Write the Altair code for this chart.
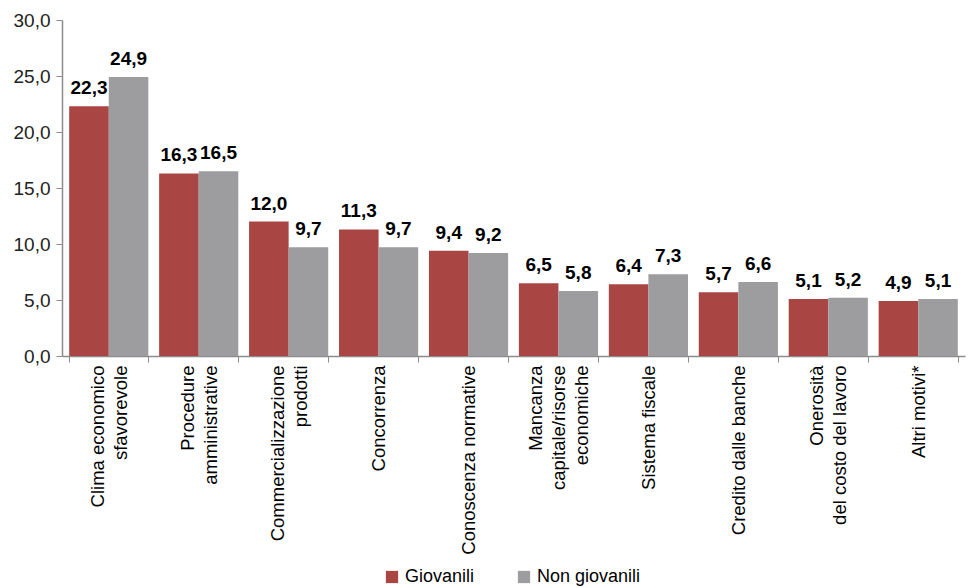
import altair as alt
import pandas as pd

categories = [
    "Clima economico|sfavorevole",
    "Procedure|amministrative",
    "Commercializzazione|prodotti",
    "Concorrenza",
    "Conoscenza normative",
    "Mancanza|capitale/risorse|economiche",
    "Sistema fiscale",
    "Credito dalle banche",
    "Onerosità|del costo del lavoro",
    "Altri motivi*",
]
series = ["Giovanili", "Non giovanili"]
giovanili = [22.3, 16.3, 12.0, 11.3, 9.4, 6.5, 6.4, 5.7, 5.1, 4.9]
non_giovanili = [24.9, 16.5, 9.7, 9.7, 9.2, 5.8, 7.3, 6.6, 5.2, 5.1]
colors = ["#A94643", "#9D9D9F"]
y_ticks = [0, 5, 10, 15, 20, 25, 30]

rows = []
for c, g, n in zip(categories, giovanili, non_giovanili):
    rows.append({"cat": c, "serie": series[0], "value": g})
    rows.append({"cat": c, "serie": series[1], "value": n})
df = pd.DataFrame(rows)

FONT = "Liberation Sans, Arial, sans-serif"
LINE_H = 23

label_offset = {
    "condition": [
        {"test": "length(split(datum.label, '|')) == 3", "value": -LINE_H},
        {"test": "length(split(datum.label, '|')) == 2", "value": -LINE_H / 2},
    ],
    "value": 0,
}

x_enc = alt.X(
    "cat:N",
    sort=categories,
    scale=alt.Scale(paddingInner=0.12, paddingOuter=0.08),
    axis=alt.Axis(
        title=None,
        labelAngle=-90,
        labelAlign="right",
        labelBaseline="middle",
        labelExpr="split(datum.label, '|')",
        labelLineHeight=LINE_H,
        labelFontSize=18.5,
        labelFont=FONT,
        labelColor="#000000",
        labelPadding=3,
        labelOffset=label_offset,
        tickBand="extent",
        tickSize=6,
        tickColor="#8c8c8c",
        domainColor="#8c8c8c",
        domainWidth=1.5,
        labelLimit=300,
    ),
)
xo_enc = alt.XOffset("serie:N", sort=series, scale=alt.Scale(paddingInner=0, paddingOuter=0))

bars = alt.Chart(df).mark_bar().encode(
    x=x_enc,
    xOffset=xo_enc,
    y=alt.Y(
        "value:Q",
        scale=alt.Scale(domain=[0, 30], nice=False),
        axis=alt.Axis(
            title=None,
            values=y_ticks,
            grid=False,
            labelExpr="replace(format(datum.value, '.1f'), '.', ',')",
            labelFontSize=19,
            labelFont=FONT,
            labelColor="#222222",
            labelPadding=6,
            tickSize=6,
            tickColor="#8c8c8c",
            domainColor="#8c8c8c",
            domainWidth=1.5,
        ),
    ),
    color=alt.Color(
        "serie:N",
        sort=series,
        scale=alt.Scale(domain=series, range=colors),
        legend=alt.Legend(
            title=None,
            orient="none",
            direction="horizontal",
            legendX=321,
            legendY=548,
            symbolType="square",
            symbolSize=150,
            symbolStrokeWidth=0,
            symbolOpacity=1,
            labelFontSize=18,
            labelFont=FONT,
            labelColor="#000000",
            labelOffset=4,
            columnPadding=40,
        ),
    ),
)

labels = alt.Chart(df).transform_calculate(
    label="replace(format(datum.value, '.1f'), '.', ',')"
).mark_text(
    fontSize=19, fontWeight="bold", font=FONT, color="#000000",
    baseline="alphabetic", dy=-12
).encode(
    x=alt.X("cat:N", sort=categories),
    xOffset=alt.XOffset("serie:N", sort=series),
    y="value:Q",
    text="label:N",
)

chart = alt.layer(bars, labels).properties(
    width=903,
    height=336,
    autosize=alt.AutoSizeParams(type="none"),
    padding={"left": 54, "top": 12, "right": 2, "bottom": 230},
).configure_view(stroke=None)

chart.save("out.html", embed_options={"renderer": "svg", "actions": False})
